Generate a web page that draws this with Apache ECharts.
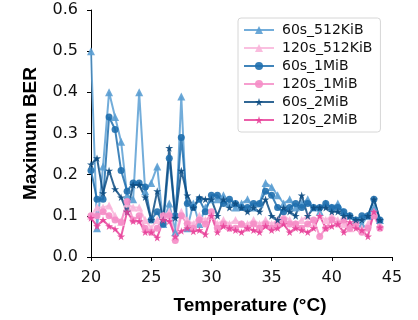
<!DOCTYPE html>
<html>
<head>
<meta charset="utf-8">
<script src="https://cdn.jsdelivr.net/npm/echarts@6/dist/echarts.min.js"></script>
<style>
  html, body { margin: 0; padding: 0; background: #fff; }
  #main { width: 418px; height: 320px; }
</style>
</head>
<body>
<div id="main"></div>
<script>
// temperatures (°C), one reading every 0.5 degree
const temps = [20, 20.5, 21, 21.5, 22, 22.5, 23, 23.5, 24, 24.5, 25, 25.5, 26, 26.5, 27, 27.5, 28, 28.5, 29, 29.5,
  30, 30.5, 31, 31.5, 32, 32.5, 33, 33.5, 34, 34.5, 35, 35.5, 36, 36.5, 37, 37.5, 38, 38.5, 39, 39.5,
  40, 40.5, 41, 41.5, 42, 42.5, 43, 43.5, 44]

const ber60s512k = [0.50, 0.07, 0.22, 0.40, 0.34, 0.28, 0.15, 0.14, 0.40, 0.16, 0.18, 0.22, 0.08, 0.13, 0.06, 0.39, 0.07, 0.13, 0.08, 0.12,
  0.14, 0.14, 0.15, 0.13, 0.12, 0.13, 0.14, 0.12, 0.13, 0.18, 0.17, 0.15, 0.13, 0.14, 0.12, 0.13, 0.14, 0.12, 0.11, 0.13,
  0.12, 0.13, 0.11, 0.10, 0.09, 0.08, 0.10, 0.12, 0.09]
const ber120s512k = [0.10, 0.12, 0.12, 0.125, 0.10, 0.085, 0.13, 0.12, 0.12, 0.09, 0.07, 0.09, 0.10, 0.11, 0.05, 0.11, 0.09, 0.08, 0.10, 0.09,
  0.10, 0.08, 0.09, 0.08, 0.09, 0.08, 0.08, 0.09, 0.08, 0.09, 0.08, 0.09, 0.10, 0.09, 0.08, 0.09, 0.10, 0.08, 0.10, 0.09,
  0.10, 0.09, 0.08, 0.07, 0.08, 0.07, 0.08, 0.11, 0.08]
const ber60s1m = [0.21, 0.14, 0.14, 0.34, 0.31, 0.21, 0.16, 0.18, 0.18, 0.17, 0.09, 0.11, 0.08, 0.24, 0.10, 0.29, 0.13, 0.12, 0.14, 0.11,
  0.15, 0.15, 0.13, 0.14, 0.13, 0.12, 0.12, 0.13, 0.13, 0.16, 0.15, 0.12, 0.11, 0.12, 0.13, 0.12, 0.13, 0.12, 0.12, 0.13,
  0.12, 0.12, 0.11, 0.10, 0.09, 0.10, 0.10, 0.14, 0.09]
const ber120s1m = [0.10, 0.10, 0.11, 0.10, 0.09, 0.085, 0.135, 0.09, 0.10, 0.07, 0.06, 0.07, 0.10, 0.10, 0.04, 0.10, 0.08, 0.07, 0.09, 0.08,
  0.11, 0.07, 0.08, 0.07, 0.07, 0.08, 0.07, 0.08, 0.07, 0.08, 0.07, 0.08, 0.09, 0.08, 0.08, 0.07, 0.08, 0.09, 0.05, 0.07,
  0.09, 0.08, 0.09, 0.07, 0.08, 0.06, 0.07, 0.10, 0.07]
const ber60s2m = [0.225, 0.24, 0.155, 0.21, 0.165, 0.145, 0.11, 0.175, 0.175, 0.145, 0.09, 0.16, 0.09, 0.265, 0.095, 0.21, 0.15, 0.12, 0.145, 0.14,
  0.14, 0.10, 0.14, 0.12, 0.13, 0.12, 0.11, 0.12, 0.11, 0.14, 0.10, 0.09, 0.12, 0.11, 0.10, 0.15, 0.10, 0.12, 0.12, 0.12,
  0.11, 0.11, 0.10, 0.10, 0.09, 0.09, 0.10, 0.14, 0.09]
const ber120s2m = [0.095, 0.075, 0.09, 0.075, 0.068, 0.05, 0.11, 0.087, 0.087, 0.06, 0.06, 0.047, 0.09, 0.087, 0.05, 0.063, 0.07, 0.062, 0.065, 0.055,
  0.10, 0.06, 0.075, 0.07, 0.065, 0.06, 0.07, 0.065, 0.06, 0.075, 0.065, 0.07, 0.08, 0.06, 0.07, 0.065, 0.06, 0.07, 0.10, 0.07,
  0.075, 0.08, 0.06, 0.085, 0.07, 0.065, 0.05, 0.11, 0.072]

const xTicks = [20, 25, 30, 35, 40, 45]
const yTicks = [0.0, 0.1, 0.2, 0.3, 0.4, 0.5, 0.6]

const star = 'path://M50,0 L61,35 L98,35 L68,57 L79,91 L50,70 L21,91 L32,57 L2,35 L39,35 Z'

const mkSeries = (name, vals, color, symbol, size) => ({
  name: name,
  type: 'line',
  data: temps.map((t, i) => [t, vals[i]]),
  symbol: symbol,
  symbolSize: size,
  symbolKeepAspect: true,
  showSymbol: true,
  showAllSymbol: true,
  itemStyle: { color: color, opacity: 0.9 },
  lineStyle: { color: color, width: 2, opacity: 0.85 },
  emphasis: { disabled: true },
  animation: false
})

const myChart = echarts.init(document.getElementById('main'), null, { renderer: 'canvas' })

let option = {
  animation: false,
  grid: { left: 91, right: 26, top: 10, bottom: 63 },
  legend: {
    orient: 'vertical',
    left: 238,
    top: 18,
    padding: [5, 8, 5, 5],
    itemWidth: 30,
    itemHeight: 10,
    itemGap: 4,
    backgroundColor: '#fff',
    borderColor: '#d6d6d6',
    borderWidth: 1,
    borderRadius: 3,
    textStyle: { fontFamily: 'DejaVu Sans', fontSize: 14, lineHeight: 14, color: '#111', padding: [0, 0, 0, 3] },
    data: ['60s_512KiB', '120s_512KiB', '60s_1MiB', '120s_1MiB', '60s_2MiB', '120s_2MiB']
  },
  xAxis: {
    type: 'value',
    min: xTicks[0],
    max: xTicks[xTicks.length - 1],
    interval: 5,
    name: 'Temperature (°C)',
    nameLocation: 'middle',
    nameGap: 39,
    nameTextStyle: { fontFamily: 'Liberation Sans', fontWeight: 'bold', fontSize: 19, color: '#000', padding: [0, 0, 0, 17] },
    axisLine: { lineStyle: { color: '#000', width: 1 } },
    axisTick: { show: true, inside: false, length: 4, lineStyle: { color: '#000' } },
    axisLabel: { fontFamily: 'DejaVu Sans', fontSize: 16, color: '#111', margin: 13 },
    splitLine: { show: false }
  },
  yAxis: {
    type: 'value',
    min: yTicks[0],
    max: yTicks[yTicks.length - 1],
    interval: 0.1,
    name: 'Maximum BER',
    nameLocation: 'middle',
    nameRotate: 90,
    nameGap: 51,
    nameTextStyle: { fontFamily: 'Liberation Sans', fontWeight: 'bold', fontSize: 19, color: '#000' },
    axisLine: { show: true, lineStyle: { color: '#000', width: 1 } },
    axisTick: { show: true, inside: false, length: 4, lineStyle: { color: '#000' } },
    axisLabel: { fontFamily: 'DejaVu Sans', fontSize: 16, color: '#111', margin: 13, formatter: v => v.toFixed(1) },
    splitLine: { show: false }
  },
  series: [
    mkSeries('60s_512KiB', ber60s512k, '#5b9fd3', 'triangle', 8),
    mkSeries('120s_512KiB', ber120s512k, '#f9b5da', 'triangle', 8),
    mkSeries('60s_1MiB', ber60s1m, '#1f6fae', 'circle', 7),
    mkSeries('120s_1MiB', ber120s1m, '#f58dc7', 'circle', 7),
    mkSeries('60s_2MiB', ber60s2m, '#0d4c82', star, 8),
    mkSeries('120s_2MiB', ber120s2m, '#e8429a', star, 8)
  ]
}

option && myChart.setOption(option)
</script>
</body>
</html>
